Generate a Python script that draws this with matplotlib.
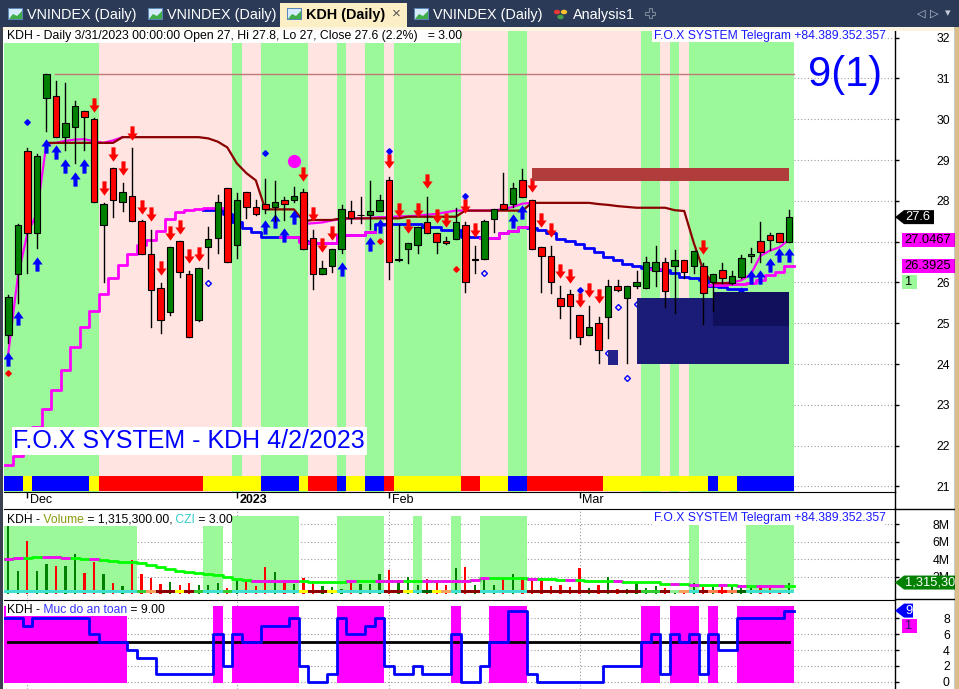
import numpy as np
import matplotlib
matplotlib.use('Agg')
import matplotlib.pyplot as plt
from matplotlib.path import Path
from matplotlib.patches import Rectangle, Polygon
from matplotlib.lines import Line2D
from matplotlib import transforms

plt.rcParams['font.family'] = ['Liberation Sans', 'DejaVu Sans']

# ---------------- data: KDH daily, 29 Nov 2022 -> 31 Mar 2023 ----------------
opens = [24.70, 26.20, 29.21, 27.20, 30.51, 30.56, 29.56, 29.80, 30.19, 30.00,
         27.40, 28.80, 27.96, 28.11, 27.50, 26.69, 25.86, 25.28, 27.01, 26.20,
         25.09, 26.86, 27.10, 28.31, 26.91, 28.21, 27.84, 27.91, 27.84, 28.01,
         28.01, 28.21, 27.10, 26.20, 26.39, 26.81, 27.74, 27.64, 27.64, 27.74,
         28.50, 26.55, 26.81, 26.91, 27.49, 27.20, 27.01, 27.06, 27.40, 26.55,
         26.58, 27.55, 27.91, 27.91, 28.50, 28.01, 26.86, 26.64, 25.61, 25.71,
         25.19, 24.70, 25.00, 25.14, 25.90, 25.61, 25.90, 25.86, 26.29, 26.49,
         26.39, 26.55, 26.39, 26.40, 26.00, 26.30, 25.99, 26.14, 26.65, 27.01,
         27.16, 27.20, 27.00]
highs = [25.70, 27.42, 29.29, 29.15, 31.10, 30.94, 30.88, 30.44, 30.19, 30.02,
         27.94, 28.80, 28.43, 29.29, 27.52, 27.28, 25.98, 26.86, 27.01, 26.28,
         26.35, 27.37, 28.14, 28.31, 28.18, 28.21, 28.03, 28.53, 28.48, 28.10,
         28.35, 28.28, 27.28, 26.52, 26.81, 27.89, 28.00, 28.10, 28.48, 28.14,
         28.58, 27.41, 26.96, 27.35, 28.10, 27.20, 27.12, 27.82, 27.47, 26.89,
         27.53, 27.79, 28.67, 28.43, 28.78, 28.01, 26.86, 26.89, 25.90, 25.81,
         25.19, 25.42, 25.16, 26.06, 26.05, 25.90, 26.29, 26.63, 26.89, 26.59,
         26.80, 26.55, 26.77, 26.47, 26.20, 26.47, 26.29, 26.68, 26.84, 27.49,
         27.20, 27.20, 27.78]
lows = [24.51, 25.50, 26.22, 26.84, 29.71, 29.56, 29.25, 28.92, 29.25, 27.96,
        26.02, 27.61, 27.76, 27.50, 26.69, 24.91, 24.77, 25.20, 26.13, 24.65,
        25.05, 26.35, 26.71, 26.49, 26.59, 27.57, 27.64, 27.70, 27.51, 27.52,
        27.97, 26.81, 25.83, 26.20, 26.26, 26.71, 27.46, 27.46, 27.31, 27.74,
        26.08, 26.52, 26.47, 26.71, 27.20, 26.71, 26.94, 27.06, 25.77, 26.22,
        26.58, 27.23, 27.79, 27.84, 28.10, 26.81, 25.77, 25.73, 25.12, 24.63,
        24.48, 24.70, 24.02, 24.63, 25.78, 24.02, 25.86, 25.86, 25.92, 25.40,
        25.25, 26.12, 26.24, 24.97, 25.31, 25.98, 25.97, 26.12, 26.51, 26.51,
        26.79, 27.00, 27.00]
closes = [25.65, 27.40, 27.20, 29.11, 31.10, 29.56, 29.90, 30.32, 30.05, 27.96,
          27.92, 28.01, 28.21, 27.50, 26.69, 25.81, 25.09, 26.86, 26.25, 24.65,
          26.35, 27.06, 27.96, 26.49, 28.01, 27.84, 27.68, 27.79, 27.96, 27.91,
          28.11, 26.81, 26.20, 26.35, 26.81, 27.79, 27.58, 27.64, 27.74, 28.01,
          26.49, 26.58, 26.96, 27.35, 27.20, 26.99, 26.96, 27.49, 26.00, 26.58,
          27.50, 27.79, 27.79, 28.31, 28.10, 26.81, 26.64, 26.00, 25.43, 25.43,
          24.65, 24.90, 24.34, 25.90, 25.81, 25.90, 26.00, 26.49, 26.49, 25.80,
          26.55, 26.25, 26.77, 25.75, 26.20, 26.10, 26.16, 26.59, 26.69, 26.75,
          27.05, 27.00, 27.60]

# volume in millions
volume = [7.84, 2.64, 6.12, 2.60, 3.44, 3.21, 3.21, 4.59, 2.45, 3.67,
          2.30, 1.30, 0.96, 3.90, 2.30, 1.88, 1.15, 1.42, 1.03, 1.26,
          1.03, 1.03, 1.30, 0.73, 1.72, 1.49, 0.90, 3.14, 2.56, 1.42,
          1.15, 1.88, 1.49, 0.92, 0.84, 0.60, 1.34, 1.15, 1.20, 2.26,
          2.76, 1.34, 1.95, 1.03, 1.72, 1.42, 1.03, 3.03, 3.14, 1.03,
          1.72, 1.03, 1.72, 2.26, 2.00, 1.49, 1.80, 0.96, 1.03, 0.80,
          3.03, 0.65, 1.03, 1.95, 0.60, 0.60, 1.34, 0.65, 0.92, 0.65,
          0.40, 0.40, 1.26, 0.80, 1.03, 1.15, 0.84, 1.03, 0.73, 1.03,
          0.65, 0.30, 1.3153]
vol_ma = [3.98, 4.10, 4.15, 4.20, 4.20, 4.20, 4.15, 4.10, 4.05, 4.00,
          3.90, 3.75, 3.70, 3.70, 3.55, 3.30, 3.05, 2.85, 2.65, 2.50,
          2.40, 2.30, 2.15, 1.95, 1.75, 1.60, 1.50, 1.50, 1.50, 1.50,
          1.45, 1.45, 1.40, 1.40, 1.40, 1.40, 1.45, 1.50, 1.50, 1.50,
          1.50, 1.50, 1.50, 1.50, 1.50, 1.50, 1.50, 1.50, 1.50, 1.55,
          1.80, 1.80, 1.80, 1.80, 1.80, 1.75, 1.72, 1.72, 1.60, 1.60,
          1.60, 1.50, 1.50, 1.50, 1.50, 1.40, 1.34, 1.34, 1.34, 1.20,
          1.15, 1.15, 1.05, 1.03, 1.03, 1.03, 1.03, 0.95, 0.92, 0.92,
          0.92, 0.92, 0.92]
vol_ma_pink_bars = [0, 1, 4, 5, 6, 9, 26, 27, 28, 29, 30, 36, 39, 40, 41, 44, 45,
                    46, 47, 48, 49, 50, 55, 59, 64, 70, 72, 75, 77, 79, 80, 81]

# indicator lines on the price pane (None = not drawn)
trail_red = ([None] * 4 + [29.42] * 8 + [29.56] * 9 +
             [29.53, 29.45, 29.31, 28.92, 28.68, 28.50] + [27.79] * 4 +
             [27.50, 27.53, 27.53, 27.53] + [27.57] * 7 + [27.61] * 6 +
             [27.76] * 7 + [27.95] * 7 + [27.92, 27.90, 27.87, 27.85] +
             [27.83] * 4 + [27.77, 27.75, 26.97, 26.30, 25.98, 25.98, 25.98] +
             [None] * 6)
band_hi = ([24.26, 26.14, 27.20, 27.69, 29.40, 29.42, 29.47, 29.50, 29.51, 29.46,
            29.42, 29.48, 29.56] + [None] * 18 +
           [27.43, 27.45, 27.47, 27.52, 27.55, 27.57, 27.57, 27.58, 27.60, 27.60,
            27.62, 27.62, 27.64, 27.66, 27.68, 27.72, 27.76, 27.76, 27.76, 27.76,
            27.76, 27.80, 27.85, 27.93, 27.95] + [None] * 18 +
           [25.98, 25.98, 26.00, 26.05, 26.20, 26.65, 26.78, 26.86, 27.0467])
band_lo = ([21.52, 21.75, 22.05, 22.45, 22.90, 23.36, 23.85, 24.42, 24.91, 25.31,
            25.71, 26.12, 26.43, 26.70, 26.92, 27.04, 27.27, 27.55, 27.73, 27.77,
            27.80, 27.83, 27.83] + [None] * 6 +
           [27.12, 27.12, 27.00, 26.96, 26.96, 26.96, 27.16, 27.16, 27.16, 27.24] +
           [None] * 11 + [27.10, 27.10, 27.20, 27.26, 27.36] + [None] * 13 +
           [26.33] + [None] * 5 +
           [25.93, 25.94, 25.95, 25.96, 25.98, 26.06, 26.18, 26.26, 26.3925])
blue_line = ([None] * 21 +
             [27.77, 27.77, 27.68, 27.47, 27.34, 27.23, 27.12, 27.12, 27.12, 27.12,
              27.02, 26.96, 26.96, 26.96, 27.16, 27.16, 27.16, 27.24, 27.42, 27.42,
              27.42, 27.42, 27.42, 27.37, 27.37, 27.28, 27.28, 27.12, 27.12, 27.10,
              27.10, 27.20, 27.26, 27.36, 27.33, 27.28, 27.20, 27.07, 27.02, 26.95,
              26.85, 26.75, 26.63, 26.55, 26.45, 26.40, 26.35, 26.33, 26.30, 26.23,
              26.13, 26.10, 26.05, 25.90, 25.88, 25.85, 25.85] + [None] * 5)
high_level = 31.11

# per-bar background states: G = green, P = pink
price_bg = "GGGGGGGGGGPPPPPPPPPPPPPPGPPGGGGGPPPGPPGGPGGGGGGGPPPPPGGPPPPPPPPPPPPGGPGPGGGGGGGGGGG"
# colour strip at bottom of price pane: B blue, Y yellow, R red
price_strip = "BBYBBBBBBYRRRRRRRRRRRYYYYYYBBBBYRRRBYYBBRYYYYYYYRRYYYBBRRRRRRRRYYYYYYYYYYYBYYBBBBBB"
# volume pane: green background bars and bottom strip
vol_bg = "GGGGGGGGGGGGGG.......GG.GGGGGGG....GGGGG...G...G..GGGGG.................G.....GGGGG"
vol_strip = "TTTTTTTTTTTTTTLSDDYDLTTLTTTTTTTYDDYTTTTTDDYTGYSTDDTTTTTDDDDDDDDDDDDLLDPSTDCRCGTTTTT"
# "Muc do an toan" pane
safety = [8, 8, 7, 8, 8, 8, 8, 8, 8, 6, 5, 5, 5, 4, 3, 3, 1, 1, 1, 1,
          1, 1, 6, 2, 6, 5, 5, 7, 7, 7, 8, 2, 0, 0, 1, 8, 6, 6, 7, 8,
          2, 1, 1, 2, 1, 1, 1, 6, 0, 0, 2, 5, 5, 9, 9, 1, 0, 0, 0, 0,
          0, 0, 0, 2, 2, 2, 2, 5, 6, 1, 6, 5, 6, 1, 6, 4, 4, 8, 8, 8,
          8, 8, 9]
safety_bg = "MMMMMMMMMMMMM.........M.MMMMMMM....MMMMM.......M...MMMM............MM.MMM.M..MMMMMM"

# signals
up_bars = [0, 1, 3, 4, 5, 6, 7, 8, 27, 28, 29, 30, 35, 38, 39, 53, 54, 77, 78, 79, 80, 81, 82]
up_tips = [24.29, 25.30, 26.63, 29.53, 29.37, 29.04, 28.71, 29.04, 27.53, 27.68, 27.33,
           27.77, 26.51, 27.12, 27.55, 27.68, 27.90, 25.89, 26.30, 26.30, 26.59, 26.84, 26.84]
down_bars = [9, 10, 11, 12, 13, 14, 15, 16, 17, 18, 19, 20, 31, 32, 33, 34, 40, 41, 42,
             43, 44, 45, 46, 48, 49, 55, 56, 57, 58, 59, 60, 61, 62, 73]
down_tips = [30.18, 28.14, 28.98, 28.63, 29.49, 27.68, 27.49, 26.18, 27.04, 27.19, 26.48,
             26.53, 28.49, 27.49, 26.73, 27.04, 28.80, 27.59, 27.20, 27.59, 28.30, 27.45,
             27.35, 27.69, 27.11, 28.20, 27.35, 27.11, 26.10, 25.99, 25.40, 25.63, 25.49, 26.69]
blue_dot_bars = [2, 27, 40, 48, 60]
blue_dot_vals = [29.94, 29.18, 29.23, 28.12, 25.81]
red_dot_bars = [0, 39, 47]
red_dot_vals = [23.79, 27.01, 26.33]
ring_bars = [21, 50, 63, 64, 65, 66]
ring_vals = [25.99, 26.24, 24.26, 25.40, 23.65, 25.46]
pink_ball = (30, 28.97)

# zones: (from bar, to bar, low, high)
resist_zone = (55, 82, 28.49, 28.81)
support_zone = (66, 82, 24.00, 25.62)
support_zone2 = (74, 82, 24.94, 25.76)
support_box = (63, 64, 23.98, 24.34)

month_pos = [2, 24, 40, 60]
month_lab = ['Dec', '2023', 'Feb', 'Mar']

N = len(closes)
x = np.arange(N)

# ---------------- figure ----------------
W, H = 959, 689
fig = plt.figure(figsize=(W / 100, H / 100), dpi=100)
fig.patch.set_facecolor('white')


def fbox(x0, y0, x1, y1):
    return [x0 / W, 1 - y1 / H, (x1 - x0) / W, (y1 - y0) / H]


def prect(x0, y0, x1, y1, color, z=5):
    fig.patches.append(Rectangle((x0 / W, 1 - y1 / H), (x1 - x0) / W, (y1 - y0) / H,
                                 transform=fig.transFigure, fc=color, ec='none', zorder=z))


def pline(x0, y0, x1, y1, color='black', lw=1, z=6):
    fig.add_artist(Line2D([x0 / W, x1 / W], [1 - y0 / H, 1 - y1 / H],
                          transform=fig.transFigure, color=color, lw=lw, zorder=z))


def ptext(px, py, s, **kw):
    kw.setdefault('zorder', 7)
    return fig.text(px / W, 1 - py / H, s, **kw)


def ctext(px, py, parts, size):
    r = fig.canvas.get_renderer()
    for s, c in parts:
        t = ptext(px, py, s, color=c, fontsize=size, va='center', ha='left')
        px += t.get_window_extent(r).width


def fill_runs(ax, codes, cmap, y0, y1, z, trans=None):
    i = 0
    while i < len(codes):
        j = i
        while j + 1 < len(codes) and codes[j + 1] == codes[i]:
            j += 1
        c = cmap.get(codes[i])
        if c:
            ax.add_patch(Rectangle((i - 0.5, y0), j - i + 1, y1 - y0, fc=c, ec='none',
                                   zorder=z, transform=trans if trans else ax.transData))
        i = j + 1


def steps(vals):
    v = np.array(vals, dtype=float)
    return np.r_[x - 0.5, N - 0.5], np.r_[v, v[-1]]


ax1 = fig.add_axes(fbox(4, 31, 895, 492))
ax2 = fig.add_axes(fbox(4, 508.5, 895, 599))
ax3 = fig.add_axes(fbox(4, 599.5, 895, 689))

for ax in (ax1, ax2, ax3):
    ax.set_xlim(-0.452, 93.14)
    for s in ('left', 'top', 'bottom'):
        ax.spines[s].set_visible(False)
    ax.spines['right'].set_linewidth(1)
    ax.yaxis.tick_right()
    ax.set_xticks(month_pos)
    ax.tick_params(axis='x', length=0, labelbottom=False)
    ax.tick_params(axis='y', length=3, width=1, direction='out', pad=36.5,
                   labelsize=8.8, colors='black')
    ax.set_axisbelow(True)
    ax.grid(True, ls=(0, (1, 2)), color='#9a9a9a', lw=0.8)

# ---------------- price pane ----------------
ax1.set_ylim(20.863, 32.162)
ax1.set_yticks(range(21, 33))
# the "27" label sits under the 27.0467 tag, as in the original screen
ax1.set_yticklabels(['' if v == 27 else str(v) for v in range(21, 33)])
ax1.spines['bottom'].set_visible(True)
ax1.tick_params(axis='x', length=4, width=1, direction='out')
for lab in ax1.get_yticklabels():
    lab.set_ha('right')

fill_runs(ax1, price_bg, {'G': '#9cf99a', 'P': '#ffe4e1'}, 0, 1, 1,
          transforms.blended_transform_factory(ax1.transData, ax1.transAxes))
fill_runs(ax1, price_strip, {'B': '#0000ff', 'Y': '#ffff00', 'R': '#ff0000'}, 0.003, 0.035, 1.5,
          transforms.blended_transform_factory(ax1.transData, ax1.transAxes))

ax1.plot([4.9, N - 0.5], [high_level, high_level], color='#c07878', lw=1, zorder=2)
bx, by = steps(blue_line)
ax1.plot(bx, by, drawstyle='steps-post', color='#0000ff', lw=2, zorder=2.0)
lx, ly = steps(band_lo)
ax1.plot(lx, ly, drawstyle='steps-post', color='#ff00ff', lw=2, zorder=2.1)
ax1.plot(x, np.array(band_hi, dtype=float), color='#ff00ff', lw=1.6, zorder=2.2)
ax1.plot(x, np.array(trail_red, dtype=float), color='#8b0000', lw=1.6, zorder=2.3)

# signal markers
up_verts = [(-5, 0), (0, 7), (5, 0), (2, 0), (2, -7), (-2, -7), (-2, 0), (-5, 0)]
codes = [Path.MOVETO] + [Path.LINETO] * 6 + [Path.CLOSEPOLY]
up_arrow = Path(up_verts, codes)
down_arrow = Path([(a, -b) for a, b in up_verts], codes)
ppu = ax1.transData.transform((0, 1))[1] - ax1.transData.transform((0, 0))[1]
msize = 10.3
half = msize * 100 / 72 / 2 / ppu
ax1.plot(up_bars, np.array(up_tips) - half, ls='none', marker=up_arrow, ms=msize,
         color='#0000ff', mew=0, zorder=3)
ax1.plot(down_bars, np.array(down_tips) + half, ls='none', marker=down_arrow, ms=msize,
         color='#ff0000', mew=0, zorder=3)
ax1.plot(blue_dot_bars, blue_dot_vals, ls='none', marker='D', ms=2.8, color='#0000ff', zorder=3)
ax1.plot(red_dot_bars, red_dot_vals, ls='none', marker='D', ms=2.8, color='#ff0000', zorder=3)
ax1.plot(ring_bars, ring_vals, ls='none', marker='D', ms=3.0, mfc='none', mec='#0000ff',
         mew=1, zorder=3)
ax1.plot([pink_ball[0]], [pink_ball[1]], ls='none', marker='o', ms=8.5, color='#ff00ff', zorder=3)

# zones
for (b0, b1, lo, hi), col in ((resist_zone, '#b03c3c'), (support_zone, '#1b1b78'),
                              (support_zone2, '#10105c'), (support_box, '#22228a')):
    ax1.add_patch(Rectangle((b0, lo), b1 - b0, hi - lo, fc=col, ec='none', zorder=4))

# candles
for i in range(N):
    o, h, l, c = opens[i], highs[i], lows[i], closes[i]
    ax1.plot([i, i], [l, h], color='black', lw=1, zorder=5)
    fc = '#008000' if c > o else ('#ff0000' if c < o else 'black')
    ax1.add_patch(Rectangle((i - 0.34, min(o, c)), 0.68, max(abs(c - o), 0.012),
                            fc=fc, ec='black', lw=0.8, zorder=6))

date_tr = transforms.blended_transform_factory(ax1.transData, ax1.transAxes)
for p, lab in zip(month_pos, month_lab):
    ax1.text(p + 0.3, -0.004, lab, transform=date_tr, va='top', ha='left', fontsize=9,
             fontweight='bold' if lab == '2023' else 'normal')

# ---------------- volume pane ----------------
ax2.set_ylim(-0.574, 9.816)
ax2.set_yticks([2, 4, 6, 8])
ax2.set_yticklabels(['2M', '4M', '6M', '8M'])
for lab in ax2.get_yticklabels():
    lab.set_ha('right')
ax2.spines['top'].set_visible(True)
fill_runs(ax2, vol_bg, {'G': '#9cf99a'}, 0.08, 8.96, 1)
vcol = ['#008000' if closes[i] >= opens[i] else '#ff0000' for i in range(N)]
ax2.bar(x, volume, width=0.24, color=vcol, zorder=3)
fill_runs(ax2, vol_strip, {'T': '#40e0d0', 'L': '#32cd32', 'S': '#f4a460', 'D': '#8b0000',
                           'Y': '#ffff00', 'G': '#006400', 'P': '#90ee90', 'C': '#ff7f50',
                           'R': '#ff0000'}, 0.08, 0.46, 3.5)
mx, my = steps(vol_ma)
ax2.plot(mx, my, drawstyle='steps-post', color='#00ff00', lw=2, zorder=4)
for i in vol_ma_pink_bars:
    ax2.plot([i - 0.5, i + 0.5], [vol_ma[i], vol_ma[i]], color='#ff00ff', lw=2,
             solid_capstyle='butt', zorder=4.1)

# ---------------- safety pane ----------------
ax3.set_ylim(-0.924, 10.405)
ax3.set_yticks([0, 2, 4, 6, 8])
for lab in ax3.get_yticklabels():
    lab.set_ha('right')
ax3.spines['top'].set_visible(True)
fill_runs(ax3, safety_bg, {'M': '#ff00ff'}, -0.2, 9.58, 1)
ax3.plot([0, N - 1], [5, 5], color='black', lw=2, zorder=2)
sx, sy = steps(safety)
ax3.plot(sx, sy, drawstyle='steps-post', color='#0000ff', lw=2, zorder=3)

# ---------------- chrome: tabs, borders, titles ----------------
prect(0, 0, W, 27, '#2b3a56', z=1)
prect(280, 3, 407, 27, '#fcefc6', z=1.5)
prect(0, 27, W, 31, '#fbf5e2', z=1)
prect(0, 27, 3, H, '#3b4150', z=8)
prect(955, 27, W, H, '#d9bd8a', z=8)
pline(954.5, 27, 954.5, H, lw=1, z=8)
pline(895, 492, 895, 508.5)
pline(895, 508.5, 955, 508.5)
pline(895, 599.3, 955, 599.3)

tabs = [(8, 'VNINDEX (Daily)'), (148, 'VNINDEX (Daily)'), (287, 'KDH (Daily)'),
        (414, 'VNINDEX (Daily)')]
for tx, name in tabs:
    prect(tx, 8, tx + 15, 20, '#5b84b8', z=2)
    prect(tx + 1, 9, tx + 14, 19, '#d6ebfb', z=2.1)
    fig.patches.append(Polygon([((tx + 1) / W, 1 - 19 / H), ((tx + 5) / W, 1 - 14 / H),
                                ((tx + 9) / W, 1 - 16 / H), ((tx + 14) / W, 1 - 11 / H),
                                ((tx + 14) / W, 1 - 19 / H)], closed=True,
                               transform=fig.transFigure, fc='#3fae49', ec='none', zorder=2.2))
    active = name.startswith('KDH')
    ptext(tx + 19, 14.5, name, color='black' if active else 'white', fontsize=10.4,
          fontweight='bold' if active else 'normal', va='center', ha='left')
ptext(396, 14, '×', color='#555555', fontsize=11, va='center', ha='center')
for cx, cy, col in ((557, 12, '#e53935'), (564, 12, '#fbc02d'), (560.5, 17, '#43a047')):
    fig.patches.append(plt.Circle((cx / W, 1 - cy / H), 3.2 / W, transform=fig.transFigure,
                                  fc=col, ec='none', zorder=2))
ptext(573, 14.5, 'Analysis1', color='white', fontsize=10.4, va='center', ha='left')
cross = [(-1.5, -5), (1.5, -5), (1.5, -1.5), (5, -1.5), (5, 1.5), (1.5, 1.5), (1.5, 5),
         (-1.5, 5), (-1.5, 1.5), (-5, 1.5), (-5, -1.5), (-1.5, -1.5)]
fig.patches.append(Polygon([((650 + a) / W, 1 - (13 + b) / H) for a, b in cross], closed=True,
                           transform=fig.transFigure, fc='none', ec='#7a8699', lw=0.8, zorder=2))
for px, ch in ((921, '◁'), (934, '▷'), (948, '▾')):
    ptext(px, 13.5, ch, color='#c3cbdb', fontsize=8, va='center', ha='center',
          family=['DejaVu Sans'])

# pane titles
prect(4, 30, 460, 43, 'white')
ptext(7, 36.5, 'KDH - Daily 3/31/2023 00:00:00 Open 27, Hi 27.8, Lo 27, Close 27.6 (2.2%)   = 3.00',
      color='black', fontsize=8.8, va='center', ha='left')
for ty in (35.5, 518.5):
    prect(652, ty - 6.5, 885, ty + 6.5, 'white')
    ptext(654, ty, 'F.O.X SYSTEM Telegram +84.389.352.357', color='#1a1aff', fontsize=8.7,
          va='center', ha='left')
prect(4, 514, 232, 526, 'white')
ctext(7, 520, [('KDH -', 'black'), (' Volume', '#8a9a10'), (' = 1,315,300.00,', 'black'),
               (' CZI', '#33cccc'), (' = 3.00', 'black')], 8.7)
prect(6, 604, 163, 616, 'white')
ctext(7, 610, [('KDH -', 'black'), (' Muc do an toan', '#3333ff'), (' = 9.00', 'black')], 8.7)

prect(12, 427, 367, 455, 'white')
ptext(13, 441.5, 'F.O.X SYSTEM - KDH 4/2/2023', color='#0000ff', fontsize=18, va='center', ha='left')
ptext(808, 75, '9(1)', color='#0000ff', fontsize=30, va='center', ha='left')


# value tags on the right axis
def tag(ax, val, txt, fc, tc, x0, x1, notch=False, size=9.3):
    yc = H - ax.transData.transform((0, val))[1]
    h = 7
    if notch:
        pts = [(895, yc), (904, yc - h), (x1, yc - h), (x1, yc + h), (904, yc + h)]
        tx = 905
    else:
        pts = [(x0, yc - h), (x1, yc - h), (x1, yc + h), (x0, yc + h)]
        tx = x0 + 2
    fig.patches.append(Polygon([(a / W, 1 - b / H) for a, b in pts], closed=True,
                               transform=fig.transFigure, fc=fc, ec='none', zorder=7))
    ptext(tx, yc, txt, color=tc, fontsize=size, va='center', ha='left', zorder=7.5)
    return yc


tag(ax1, closes[-1], f'{closes[-1]:g}', 'black', 'white', 895, 934, notch=True)
tag(ax1, band_hi[-1], f'{band_hi[-1]:g}', '#ff00ff', 'black', 902, 955)
yl = tag(ax1, band_lo[-1], f'{band_lo[-1]:g}', '#ff00ff', 'black', 902, 955)
prect(902, yl + 9, 917, yl + 22.5, '#9cf99a', z=7)
ptext(905, yl + 15.8, '1', color='black', fontsize=9.3, va='center', ha='left')
tag(ax2, volume[-1], f'{int(round(volume[-1] * 1e6)):,}', '#008000', 'white', 895, 960, notch=True)
y9 = tag(ax3, safety[-1], '', '#0000ff', 'white', 895, 913, notch=True)
ptext(908.5, y9, f'{safety[-1]}', color='white', fontsize=9.3, va='center', ha='center',
      zorder=7.5)
prect(902, y9 + 8, 917, y9 + 22, '#ff00ff', z=7)
ptext(905, y9 + 15, '1', color='#202060', fontsize=9.3, va='center', ha='left')

plt.savefig('out.png', dpi=100)
